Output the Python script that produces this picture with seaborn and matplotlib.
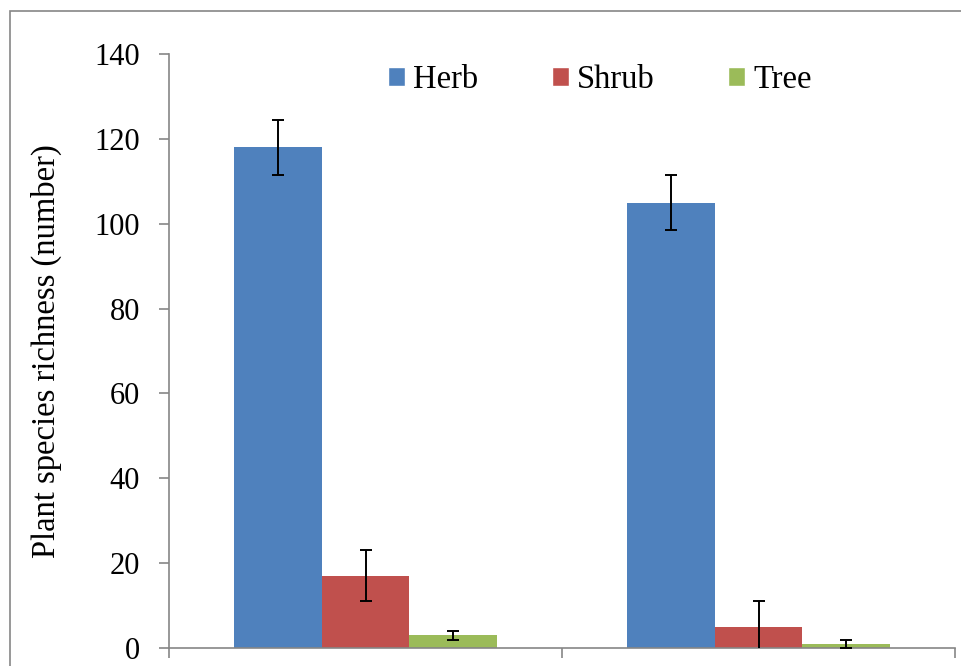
import seaborn as sns
import pandas as pd
import matplotlib.pyplot as plt
from matplotlib.patches import Rectangle, Patch

# data
sites = ['Site 1', 'Site 2']
forms = ['Herb', 'Shrub', 'Tree']
herb = [118, 105]
shrub = [17, 5]
tree = [3, 1]
herb_err = [6.5, 6.5]
shrub_err = [6, 6]
tree_err = [1, 1]
colors = ['#4F81BD', '#C0504D', '#9BBB59']

df = pd.DataFrame({
    'site': sites * 3,
    'form': [f for f in forms for _ in sites],
    'richness': herb + shrub + tree,
})
errs = [herb_err, shrub_err, tree_err]

sns.set_style('white')
plt.rcParams['font.family'] = ['Liberation Serif', 'DejaVu Serif']
plt.rcParams['text.color'] = 'black'
plt.rcParams['axes.labelcolor'] = 'black'
plt.rcParams['ytick.color'] = 'black'

fig = plt.figure(figsize=(9.61, 6.66), dpi=100)
ax = fig.add_axes([169/961, 1-648/666, (955-169)/961, (648-54)/666])

# outer frame of the chart (cut off at right and bottom like the source)
fig.patches.append(Rectangle((10/961, -0.1), 1.2, 1-11/666+0.1, transform=fig.transFigure,
                             fill=False, edgecolor='#868686', linewidth=1.2, zorder=0))

sns.barplot(data=df, x='site', y='richness', hue='form', palette=colors, width=0.667,
            errorbar=None, saturation=1, linewidth=0, ax=ax, legend=False)

for cont, e in zip(ax.containers, errs):
    xs = [b.get_x() + b.get_width()/2 for b in cont]
    ys = [b.get_height() for b in cont]
    ax.errorbar(xs, ys, yerr=e, fmt='none', ecolor='black', elinewidth=1.4,
                capsize=4.5, capthick=1.4, zorder=5)

ax.set_ylim(0, 140)
ax.set_yticks(range(0, 141, 20))
ax.set_xlim(-0.5, 1.5)
ax.set_xticks([])
ax.set_xticks([-0.5, 0.5, 1.5], minor=True)
ax.tick_params(axis='x', which='minor', length=7, width=1.2, color='#868686', bottom=True)
ax.tick_params(axis='y', length=7, width=1.2, color='#868686', labelcolor='black',
               left=True, labelsize=22, pad=14)
ax.set_xlabel('')
ax.set_ylabel('Plant species richness (number)', fontsize=23.5, labelpad=23)

for s in ['top', 'right']:
    ax.spines[s].set_visible(False)
for s in ['left', 'bottom']:
    ax.spines[s].set_color('#868686')
    ax.spines[s].set_linewidth(1.2)

handles = [Patch(facecolor=c, label=f) for c, f in zip(colors, forms)]
ax.legend(handles=handles, loc='center', bbox_to_anchor=(0.548, 0.956), ncol=3, frameon=False,
          fontsize=23.5, handlelength=0.52, handleheight=0.52, handletextpad=0.25,
          columnspacing=2.25)

fig.savefig('out.png', dpi=100)
